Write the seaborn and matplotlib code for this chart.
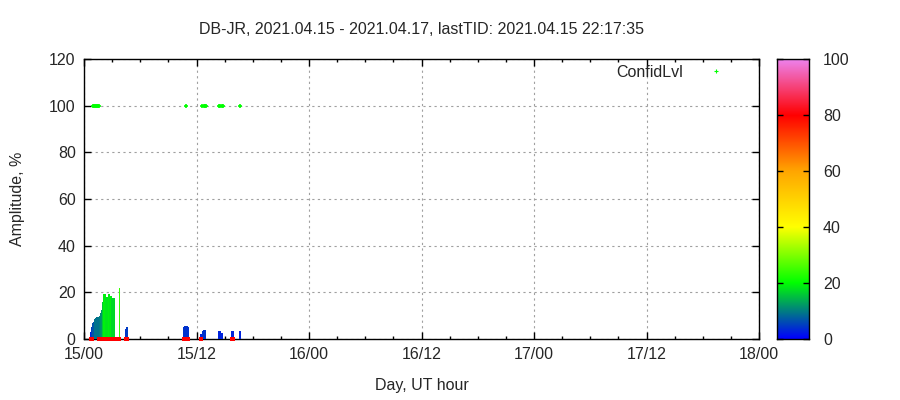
import numpy as np
import pandas as pd
import seaborn as sns
import matplotlib
matplotlib.use("Agg")
from matplotlib import pyplot as plt
from matplotlib.colors import LinearSegmentedColormap, Normalize
from matplotlib.ticker import MultipleLocator, FuncFormatter
from matplotlib.lines import Line2D

# hours since 2021.04.15 00:00 UT
bar_hours = [0.75, 0.85, 0.96, 1.07, 1.17, 1.28, 1.39, 1.49, 1.60, 1.71, 1.81, 1.92,
             2.03, 2.13, 2.24, 2.35, 2.45, 2.56, 2.67, 2.77, 2.88, 2.99, 3.09, 3.20,
             3.79, 4.48, 4.59,
             10.67, 10.77, 10.88, 10.99, 11.09,
             12.48, 12.69, 12.80, 12.91,
             14.40, 14.51, 14.61, 14.72,
             15.79, 15.89, 16.64]
bar_amp = [3.1, 5.0, 6.7, 7.4, 8.6, 9.1, 9.3, 9.3, 9.3, 9.9, 11.0, 12.4,
           16.0, 19.3, 19.3, 18.1, 17.9, 18.1, 19.3, 17.9, 18.6, 17.4, 17.4, 17.4,
           21.7, 4.3, 5.1,
           5.2, 5.4, 5.4, 5.4, 5.2,
           2.1, 3.6, 3.9, 3.9,
           3.4, 3.4, 2.4, 2.4,
           3.4, 3.4, 3.4]
bar_conf = [3, 5, 7, 7, 9, 9, 9, 9, 9, 10, 11, 12,
            16, 19, 19, 18, 18, 18, 19, 18, 19, 17, 17, 17,
            24, 4, 5,
            4, 4, 4, 4, 4,
            3, 4, 4, 4,
            3, 3, 3, 3,
            3, 3, 3]

zero_hours = [0.75, 0.85, 1.60, 1.71, 1.81, 1.92, 2.03, 2.13, 2.24, 2.35, 2.45, 2.56,
              2.67, 2.77, 2.88, 2.99, 3.09, 3.20, 3.31, 3.77, 4.48, 4.59,
              10.67, 10.77, 10.99, 11.09, 12.48, 15.79, 15.89]
zero_conf = 80

full_hours = [0.96, 1.07, 1.17, 1.28, 1.39, 1.49, 1.60, 10.85,
              12.62, 12.75, 12.91, 13.05, 14.37, 14.51, 14.67, 14.86, 16.67]
full_amp = 100
full_conf = 20

title = "DB-JR, 2021.04.15 - 2021.04.17, lastTID: 2021.04.15 22:17:35"

sns.set_theme(style="ticks")
plt.rcParams["font.family"] = ["Liberation Sans", "DejaVu Sans"]
plt.rcParams["font.size"] = 10

cmap = LinearSegmentedColormap.from_list(
    "confid", [(0.0, (0, 0, 1)), (0.2, (0, 1, 0)), (0.4, (1, 1, 0)),
               (0.6, (1, 0.65, 0)), (0.8, (1, 0, 0)), (1.0, (0.93, 0.51, 0.93))])
norm = Normalize(0, 100)

fig = plt.figure(figsize=(9, 4), dpi=100)
ax = fig.add_axes([84 / 900, 61 / 400, 675 / 900, 280 / 400])
cax = fig.add_axes([777 / 900, 61 / 400, 32 / 900, 280 / 400])

ax.bar(bar_hours, bar_amp, width=0.115, color=cmap(norm(np.array(bar_conf))),
       linewidth=0, zorder=3, antialiased=False)

zeros = pd.DataFrame({"hour": zero_hours, "amp": 0.0})
sns.scatterplot(data=zeros, x="hour", y="amp", ax=ax, marker="s", s=6,
                color=cmap(norm(zero_conf)), linewidth=0, zorder=5, clip_on=False)
fulls = pd.DataFrame({"hour": full_hours, "amp": full_amp})
sns.scatterplot(data=fulls, x="hour", y="amp", ax=ax, marker="+", s=9,
                color=cmap(norm(full_conf)), linewidth=1.2, zorder=5)

ax.set_xlim(0, 72)
ax.set_ylim(0, 120)
ax.xaxis.set_major_locator(MultipleLocator(12))
ax.xaxis.set_minor_locator(MultipleLocator(3))
ax.yaxis.set_major_locator(MultipleLocator(20))
ax.xaxis.set_major_formatter(FuncFormatter(lambda h, p: f"{15 + int(h) // 24}/{int(h) % 24:02d}"))
ax.grid(True, which="major", color="#a0a0a0", linestyle=(0, (2, 3)), linewidth=0.8)
ax.set_axisbelow(True)
ax.tick_params(which="both", direction="in", top=True, right=True, labelsize=11.5,
               color="black", pad=6)
ax.tick_params(which="major", length=5, width=1)
ax.tick_params(which="minor", length=2.5, width=1)
for s in ax.spines.values():
    s.set_color("black")
    s.set_linewidth(1)
ax.set_xlabel("Day, UT hour", fontsize=11.5, labelpad=11)
ax.set_ylabel("Amplitude, %", fontsize=11.5, labelpad=17)
ax.set_title(title, fontsize=11.5, pad=18)

handle = Line2D([], [], linestyle="none", marker="+", markersize=3,
                color=cmap(norm(full_conf)), markeredgewidth=0.8)
ax.legend([handle], ["ConfidLvl"], loc="upper right", frameon=False,
          markerfirst=False, fontsize=11.5, handlelength=1.0, handletextpad=1.6,
          bbox_to_anchor=(0.97, 1.03))

grad = np.linspace(0, 100, 256).reshape(-1, 1)
cax.imshow(grad, aspect="auto", origin="lower", cmap=cmap, extent=[0, 1, 0, 100])
cax.set_xticks([])
cax.yaxis.tick_right()
cax.yaxis.set_major_locator(MultipleLocator(20))
cax.tick_params(axis="y", direction="in", left=True, right=True, length=4,
                width=1, labelsize=11.5, pad=10, color="black")
for s in cax.spines.values():
    s.set_color("black")
    s.set_linewidth(1)

fig.savefig("out.png", dpi=100)
